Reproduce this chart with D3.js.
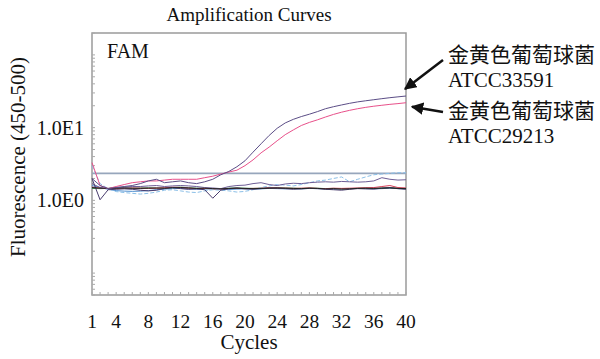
<!DOCTYPE html>
<html>
<head>
<meta charset="utf-8">
<script src="https://cdn.jsdelivr.net/npm/d3@7"></script>
<style>
  body { margin: 0; background: #fff; }
  text { font-family: "Liberation Serif", "Times New Roman", serif; fill: #111; }
  .cjk { font-family: "Noto Sans CJK SC", sans-serif; }
</style>
</head>
<body>
<svg id="chart" width="600" height="359"></svg>
<script>
// cycle numbers and axis labels
const cycles = [1,2,3,4,5,6,7,8,9,10,11,12,13,14,15,16,17,18,19,20,
  21,22,23,24,25,26,27,28,29,30,31,32,33,34,35,36,37,38,39,40];
const xTickLabels = [1, 4, 8, 12, 16, 20, 24, 28, 32, 36, 40];
const yTickLabels = [{ v: 1, t: "1.0E0" }, { v: 10, t: "1.0E1" }];
const threshold = 2.35;

// fluorescence per cycle
const atcc33591 = [2.0,1.6,1.45,1.5,1.55,1.6,1.7,1.85,1.95,1.75,1.8,1.85,1.75,1.7,1.8,1.95,2.25,2.5,2.9,3.5,
  4.6,6.0,7.8,9.8,11.6,13.0,14.2,15.3,16.6,18.2,19.4,20.5,21.6,22.6,23.4,24.2,25.0,25.8,26.5,27.2];
const atcc29213 = [3.3,1.6,1.45,1.55,1.65,1.75,1.8,1.85,1.85,1.9,1.95,1.95,1.95,1.95,2.05,2.15,2.3,2.45,2.6,3.0,
  3.6,4.5,5.4,6.6,8.0,9.3,10.7,11.8,12.8,14.0,15.2,16.3,17.3,18.2,19.0,19.7,20.3,20.9,21.4,22.0];
const negLightBlue = [3.0,1.7,1.45,1.32,1.28,1.25,1.22,1.25,1.3,1.38,1.4,1.35,1.3,1.28,1.35,1.4,1.38,1.35,1.3,1.33,
  1.4,1.5,1.58,1.65,1.62,1.58,1.65,1.75,1.85,1.9,2.0,2.1,1.8,1.95,2.1,2.25,2.3,2.35,2.4,2.4];
const negPurple = [1.7,1.5,1.45,1.5,1.52,1.55,1.55,1.58,1.6,1.55,1.58,1.6,1.58,1.55,1.5,1.48,1.45,1.55,1.6,1.62,
  1.7,1.75,1.65,1.6,1.68,1.72,1.7,1.75,1.78,1.8,1.78,1.82,1.8,1.78,1.8,1.85,2.05,1.95,1.9,1.92];
const negDark = [2.0,1.02,1.4,1.42,1.44,1.42,1.38,1.35,1.38,1.45,1.5,1.45,1.42,1.44,1.4,1.07,1.38,1.45,1.48,1.44,
  1.42,1.45,1.48,1.47,1.45,1.42,1.44,1.46,1.45,1.42,1.4,1.38,1.42,1.45,1.44,1.43,1.47,1.5,1.45,1.42];
const negBlack = [1.5,1.47,1.46,1.47,1.48,1.47,1.46,1.47,1.48,1.47,1.49,1.5,1.48,1.46,1.47,1.45,1.44,1.46,1.47,1.46,
  1.45,1.46,1.47,1.48,1.47,1.46,1.45,1.47,1.46,1.44,1.45,1.43,1.44,1.46,1.47,1.46,1.47,1.48,1.46,1.45];
const negGreen = [1.46,1.45,1.46,1.48,1.47,1.46,1.48,1.49,1.47,1.48,1.5,1.52,1.49,1.47,1.46,1.45,1.45,1.47,1.48,1.47,
  1.46,1.47,1.48,1.49,1.48,1.47,1.46,1.48,1.47,1.45,1.46,1.44,1.45,1.47,1.48,1.47,1.48,1.5,1.47,1.46];
const negRed = [1.52,1.48,1.45,1.46,1.47,1.48,1.47,1.46,1.47,1.49,1.52,1.5,1.47,1.45,1.46,1.44,1.43,1.45,1.46,1.45,
  1.46,1.47,1.49,1.48,1.47,1.46,1.47,1.48,1.46,1.45,1.47,1.46,1.47,1.48,1.49,1.5,1.55,1.6,1.5,1.48];
const negBlue = [1.6,1.5,1.42,1.36,1.34,1.33,1.34,1.36,1.4,1.43,1.45,1.46,1.44,1.42,1.43,1.44,1.42,1.41,1.43,1.44,
  1.43,1.44,1.46,1.45,1.44,1.45,1.44,1.46,1.45,1.44,1.43,1.44,1.45,1.46,1.45,1.44,1.45,1.47,1.45,1.44];

const series = [
  { values: negBlue, color: "#4f8fd0" },
  { values: negGreen, color: "#3f8a4f" },
  { values: negRed, color: "#d8405a" },
  { values: negLightBlue, color: "#8cc0e8", dash: "4,2" },
  { values: negPurple, color: "#6e5e96" },
  { values: negDark, color: "#4a3d6e" },
  { values: negBlack, color: "#222222" },
  { values: atcc29213, color: "#e8508a" },
  { values: atcc33591, color: "#5b4d86" }
];

const svg = d3.select("#chart");
const margin = { top: 33, right: 194, bottom: 64, left: 92 };
const width = 600 - margin.left - margin.right,
  height = 359 - margin.top - margin.bottom;
const g = svg.append("g").attr("transform", "translate(" + margin.left + "," + margin.top + ")");

const x = d3.scaleLinear().domain([1, 40]).range([0, width]);
const y = d3.scaleLog().domain([0.05, 200]).range([height, 0]);

// frame
g.append("rect")
  .attr("width", width).attr("height", height)
  .attr("fill", "none").attr("stroke", "#9a9a9a").attr("stroke-width", 1.5);

// inner tick marks
g.append("g").selectAll("line")
  .data(cycles)
  .enter().append("line")
  .attr("x1", d => x(d)).attr("x2", d => x(d))
  .attr("y1", height).attr("y2", height - 3)
  .attr("stroke", "#aaa");

g.append("g").selectAll("line")
  .data(y.ticks())
  .enter().append("line")
  .attr("x1", 0).attr("x2", 3)
  .attr("y1", d => y(d)).attr("y2", d => y(d))
  .attr("stroke", "#aaa");

// tick labels
g.append("g").selectAll("text")
  .data(xTickLabels)
  .enter().append("text")
  .attr("x", d => x(d)).attr("y", height + 33)
  .attr("text-anchor", "middle").attr("font-size", 19.5)
  .text(d => d);

g.append("g").selectAll("text")
  .data(yTickLabels)
  .enter().append("text")
  .attr("x", -8).attr("y", d => y(d.v)).attr("dy", "0.35em")
  .attr("text-anchor", "end").attr("font-size", 20)
  .text(d => d.t);

// threshold
g.append("line")
  .attr("x1", x(1)).attr("x2", x(40))
  .attr("y1", y(threshold)).attr("y2", y(threshold))
  .attr("stroke", "#97a6bc").attr("stroke-width", 1.6);

const line = d3.line()
  .x((d, i) => x(cycles[i]))
  .y(d => y(d));

g.append("g").selectAll("path")
  .data(series)
  .enter().append("path")
  .attr("d", d => line(d.values))
  .attr("fill", "none")
  .attr("stroke", d => d.color)
  .attr("stroke-width", 1)
  .attr("stroke-dasharray", d => d.dash || null);

// titles
svg.append("text")
  .attr("x", margin.left + width / 2).attr("y", 21)
  .attr("text-anchor", "middle").attr("font-size", 19)
  .text("Amplification Curves");

g.append("text")
  .attr("x", 15).attr("y", 25)
  .attr("font-size", 20)
  .text("FAM");

svg.append("text")
  .attr("x", margin.left + width / 2).attr("y", 349)
  .attr("text-anchor", "middle").attr("font-size", 21)
  .text("Cycles");

svg.append("text")
  .attr("transform", "translate(25,157) rotate(-90)")
  .attr("text-anchor", "middle").attr("font-size", 21)
  .text("Fluorescence (450-500)");

// annotations
svg.append("defs").append("marker")
  .attr("id", "arrow")
  .attr("viewBox", "0 0 10 10")
  .attr("refX", 9).attr("refY", 5)
  .attr("markerWidth", 5).attr("markerHeight", 5)
  .attr("markerUnits", "strokeWidth")
  .attr("orient", "auto")
  .append("path")
  .attr("d", "M0,0L10,5L0,10z")
  .attr("fill", "#111");

const ann = svg.append("g");
const labels = [
  { cn: "金黄色葡萄球菌", en: "ATCC33591", y0: 62, from: [443, 60], to: [margin.left + x(40) - 1, margin.top + y(atcc33591[39]) - 7] },
  { cn: "金黄色葡萄球菌", en: "ATCC29213", y0: 118, from: [443, 112], to: [margin.left + x(40) + 6, margin.top + y(atcc29213[39]) + 4] }
];
labels.forEach(l => {
  ann.append("text").attr("class", "cjk")
    .attr("x", 448).attr("y", l.y0).attr("font-size", 21)
    .text(l.cn);
  ann.append("text")
    .attr("x", 448).attr("y", l.y0 + 25).attr("font-size", 21)
    .text(l.en);
  ann.append("line")
    .attr("x1", l.from[0]).attr("y1", l.from[1])
    .attr("x2", l.to[0]).attr("y2", l.to[1])
    .attr("stroke", "#111").attr("stroke-width", 2.5)
    .attr("marker-end", "url(#arrow)");
});
</script>
</body>
</html>
